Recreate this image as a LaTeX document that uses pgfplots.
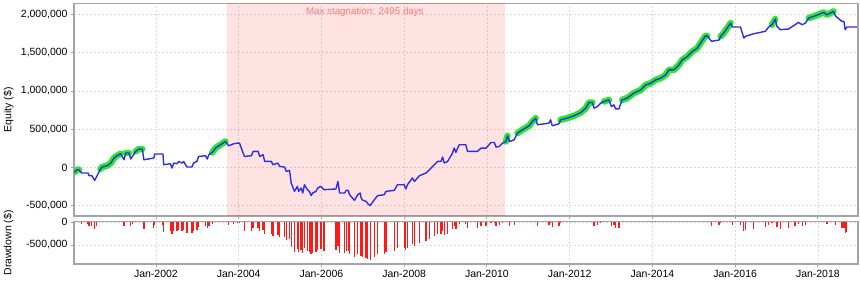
\documentclass[border=0pt]{standalone}
\usepackage{fontspec}
\setmainfont{Liberation Sans}
\usepackage{pgfplots}
\pgfplotsset{compat=1.18}
\definecolor{eqblue}{RGB}{45,45,235}
\definecolor{hiGreen}{RGB}{40,235,40}
\definecolor{stagtext}{RGB}{250,120,120}
\definecolor{axgray}{RGB}{165,165,165}
\definecolor{gridgray}{RGB}{218,218,218}
\definecolor{ddred}{RGB}{255,25,25}

\pgfplotsset{
  base/.style={
    scale only axis, width=784bp,
    xmin=2000.02, xmax=2018.97,
    xtick={2002,2004,2006,2008,2010,2012,2014,2016,2018},
    grid=major,
    major grid style={draw=gridgray, dash pattern=on 2bp off 2bp, line width=0.5bp},
    axis line style={draw=axgray, line width=1.2bp},
    tick style={draw=axgray, line width=0.8bp},
    tick align=outside, major tick length=3bp,
    xtick pos=bottom, ytick pos=left,
    ticklabel style={font=\fontsize{10.5}{12}\selectfont},
    label style={font=\fontsize{10.5}{12}\selectfont},
    scaled y ticks=false,
    /pgf/number format/assume math mode=true,
    /pgf/number format/fixed,
    /pgf/number format/precision=0,
    /pgf/number format/1000 sep={,},
    ylabel style={at={(axis description cs:-0.0833,0.5)}, anchor=center},
  },
  greenseg/.style={hiGreen, line width=6.5bp, line cap=round, line join=round, no markers},
}

\begin{document}
\begin{tikzpicture}
\useasboundingbox (0,0) rectangle (860bp,286bp);

\begin{axis}[base, at={(74bp,70bp)}, anchor=south west, height=212.7bp,
  ymin=-635000, ymax=2145000,
  ytick={-500000,0,500000,1000000,1500000,2000000},
  xticklabels={},
  ylabel={Equity (\$)}]
\fill[red, fill opacity=0.11] (axis cs:2003.72,-635000) rectangle (axis cs:2010.44,2145000);
\node[text=stagtext, font=\fontsize{9.8}{11}\selectfont] at (axis cs:2007.05,2030000) {Max stagnation: 2495 days};

\addplot[greenseg] coordinates {(2000.02,-65000)(2000.10,-30000)(2000.14,-30000)};
\addplot[greenseg] coordinates {(2000.66,-21000)(2000.70,5000)(2000.82,22000)(2000.91,57000)(2000.99,123000)(2001.06,153000)(2001.15,179000)};
\addplot[greenseg] coordinates {(2001.27,188000)(2001.35,188000)};
\addplot[greenseg] coordinates {(2001.51,209000)(2001.59,240000)(2001.67,240000)};
\addplot[greenseg] coordinates {(2003.36,196000)(2003.44,253000)(2003.56,296000)(2003.68,339000)};
\addplot[greenseg] coordinates {(2010.46,339000)(2010.50,413000)};
\addplot[greenseg] coordinates {(2010.74,449000)(2010.86,492000)(2011.02,544000)(2011.10,600000)(2011.18,644000)};
\addplot[greenseg] coordinates {(2011.78,622000)(2011.94,644000)(2012.10,674000)(2012.27,717000)(2012.39,775000)(2012.47,848000)(2012.55,848000)};
\addplot[greenseg] coordinates {(2012.83,861000)(2012.95,883000)};
\addplot[greenseg] coordinates {(2013.27,883000)(2013.39,905000)(2013.55,970000)(2013.72,1013000)(2013.84,1078000)(2013.96,1101000)(2014.08,1144000)(2014.20,1166000)(2014.32,1209000)(2014.40,1274000)(2014.52,1274000)(2014.64,1339000)(2014.72,1404000)(2014.84,1447000)(2014.96,1513000)(2015.08,1557000)(2015.16,1622000)(2015.28,1717000)(2015.32,1721000)};
\addplot[greenseg] coordinates {(2015.65,1713000)(2015.73,1760000)(2015.89,1887000)};
\addplot[greenseg] coordinates {(2016.89,1865000)(2016.97,1939000)};
\addplot[greenseg] coordinates {(2017.78,1952000)(2017.94,1982000)(2018.14,2026000)(2018.22,1995000)(2018.38,2039000)};

\addplot[eqblue, line width=1.4bp, no markers, line join=round] coordinates {
(2000.02,-65000)(2000.10,-30000)(2000.14,-30000)(2000.20,-73000)(2000.36,-73000)(2000.38,-108000)
(2000.45,-108000)(2000.52,-170000)(2000.57,-117000)(2000.66,-21000)(2000.70,5000)(2000.82,22000)
(2000.91,57000)(2000.99,123000)(2001.06,153000)(2001.15,179000)(2001.23,100000)(2001.27,188000)
(2001.35,188000)(2001.39,110000)(2001.43,143000)(2001.51,209000)(2001.59,240000)(2001.67,240000)
(2001.71,100000)(2001.95,123000)(2001.97,175000)(2002.17,175000)(2002.19,35000)(2002.35,48000)
(2002.39,-8000)(2002.43,57000)(2002.51,48000)(2002.55,78000)(2002.63,57000)(2002.67,78000)
(2002.75,5000)(2002.87,5000)(2002.91,57000)(2002.99,78000)(2003.03,143000)(2003.20,153000)
(2003.24,110000)(2003.28,166000)(2003.36,196000)(2003.44,253000)(2003.56,296000)(2003.68,339000)
(2003.76,283000)(2003.88,309000)(2003.98,318000)(2004.02,318000)(2004.14,143000)(2004.31,153000)
(2004.35,209000)(2004.47,209000)(2004.51,143000)(2004.59,166000)(2004.63,78000)(2004.79,78000)
(2004.83,35000)(2004.95,57000)(2004.99,13000)(2005.11,5000)(2005.15,-52000)(2005.23,-39000)
(2005.27,-204000)(2005.35,-313000)(2005.42,-248000)(2005.45,-313000)(2005.51,-269000)(2005.55,-334000)
(2005.59,-226000)(2005.66,-291000)(2005.71,-313000)(2005.75,-369000)(2005.79,-334000)(2005.87,-313000)
(2005.91,-269000)(2005.99,-248000)(2006.06,-291000)(2006.35,-282000)(2006.40,-183000)(2006.44,-334000)
(2006.56,-334000)(2006.60,-300000)(2006.65,-300000)(2006.68,-356000)(2006.80,-430000)(2006.88,-356000)
(2006.94,-334000)(2006.96,-399000)(2007.00,-430000)(2007.08,-443000)(2007.12,-473000)(2007.18,-499000)
(2007.28,-421000)(2007.36,-369000)(2007.52,-356000)(2007.56,-313000)(2007.76,-300000)(2007.84,-226000)
(2008.00,-226000)(2008.04,-282000)(2008.08,-226000)(2008.20,-138000)(2008.25,-183000)(2008.37,-108000)
(2008.53,-73000)(2008.61,-30000)(2008.73,35000)(2008.81,78000)(2008.89,78000)(2008.93,136000)
(2008.97,57000)(2009.05,78000)(2009.17,188000)(2009.21,253000)(2009.25,196000)(2009.33,296000)
(2009.49,296000)(2009.53,209000)(2009.77,209000)(2009.86,253000)(2009.98,253000)(2010.10,326000)
(2010.18,326000)(2010.22,266000)(2010.30,274000)(2010.38,318000)(2010.46,339000)(2010.50,413000)
(2010.55,339000)(2010.66,361000)(2010.74,449000)(2010.86,492000)(2011.02,544000)(2011.10,600000)
(2011.18,644000)(2011.22,557000)(2011.50,579000)(2011.54,622000)(2011.58,544000)(2011.74,570000)
(2011.78,622000)(2011.94,644000)(2012.10,674000)(2012.27,717000)(2012.39,775000)(2012.47,848000)
(2012.55,848000)(2012.59,775000)(2012.67,795000)(2012.75,840000)(2012.83,861000)(2012.95,883000)
(2013.01,795000)(2013.07,818000)(2013.11,765000)(2013.19,765000)(2013.27,883000)(2013.39,905000)
(2013.55,970000)(2013.72,1013000)(2013.84,1078000)(2013.96,1101000)(2014.08,1144000)(2014.20,1166000)
(2014.32,1209000)(2014.40,1274000)(2014.52,1274000)(2014.64,1339000)(2014.72,1404000)(2014.84,1447000)
(2014.96,1513000)(2015.08,1557000)(2015.16,1622000)(2015.28,1717000)(2015.32,1721000)(2015.43,1648000)
(2015.61,1665000)(2015.65,1713000)(2015.73,1760000)(2015.89,1887000)(2015.93,1835000)(2016.13,1835000)
(2016.21,1691000)(2016.25,1713000)(2016.45,1747000)(2016.73,1779000)(2016.81,1835000)(2016.89,1865000)
(2016.97,1939000)(2017.01,1844000)(2017.09,1800000)(2017.29,1809000)(2017.45,1865000)(2017.53,1896000)
(2017.62,1865000)(2017.70,1887000)(2017.78,1952000)(2017.94,1982000)(2018.14,2026000)(2018.22,1995000)
(2018.38,2039000)(2018.42,1982000)(2018.58,1909000)(2018.63,1909000)(2018.66,1800000)(2018.70,1835000)
(2018.94,1835000)};
\end{axis}

\begin{axis}[base, at={(74bp,22bp)}, anchor=south west, height=42.3bp,
  ymin=-920000, ymax=13000,
  ytick={-500000,0},
  xticklabels={Jan-2002,Jan-2004,Jan-2006,Jan-2008,Jan-2010,Jan-2012,Jan-2014,Jan-2016,Jan-2018},
  ylabel={Drawdown (\$)}]
\addplot[ycomb, draw=ddred, line width=1.3bp, no markers] coordinates {
(2000.20,-43000)(2000.36,-43000)(2000.38,-78000)(2000.45,-78000)(2000.52,-140000)(2000.57,-87000)
(2001.23,-79000)(2001.39,-78000)(2001.43,-45000)(2001.71,-140000)(2001.95,-117000)(2001.97,-65000)
(2002.17,-65000)(2002.19,-205000)(2002.35,-192000)(2002.39,-248000)(2002.43,-183000)(2002.51,-192000)
(2002.55,-162000)(2002.63,-183000)(2002.67,-162000)(2002.75,-235000)(2002.87,-235000)(2002.91,-183000)
(2002.99,-162000)(2003.03,-97000)(2003.20,-87000)(2003.24,-130000)(2003.28,-74000)(2003.36,-44000)
(2003.76,-56000)(2003.88,-30000)(2003.98,-21000)(2004.02,-21000)(2004.14,-196000)(2004.31,-186000)
(2004.35,-130000)(2004.47,-130000)(2004.51,-196000)(2004.59,-173000)(2004.63,-261000)(2004.79,-261000)
(2004.83,-304000)(2004.95,-282000)(2004.99,-326000)(2005.11,-334000)(2005.15,-391000)(2005.23,-378000)
(2005.27,-543000)(2005.35,-652000)(2005.42,-587000)(2005.45,-652000)(2005.51,-608000)(2005.55,-673000)
(2005.59,-565000)(2005.66,-630000)(2005.71,-652000)(2005.75,-708000)(2005.79,-673000)(2005.87,-652000)
(2005.91,-608000)(2005.99,-587000)(2006.06,-630000)(2006.35,-621000)(2006.40,-522000)(2006.44,-673000)
(2006.56,-673000)(2006.60,-639000)(2006.65,-639000)(2006.68,-695000)(2006.80,-769000)(2006.88,-695000)
(2006.94,-673000)(2006.96,-738000)(2007.00,-769000)(2007.08,-782000)(2007.12,-812000)(2007.18,-838000)
(2007.28,-760000)(2007.36,-708000)(2007.52,-695000)(2007.56,-652000)(2007.76,-639000)(2007.84,-565000)
(2008.00,-565000)(2008.04,-621000)(2008.08,-565000)(2008.20,-477000)(2008.25,-522000)(2008.37,-447000)
(2008.53,-412000)(2008.61,-369000)(2008.73,-304000)(2008.81,-261000)(2008.89,-261000)(2008.93,-203000)
(2008.97,-282000)(2009.05,-261000)(2009.17,-151000)(2009.21,-86000)(2009.25,-143000)(2009.33,-43000)
(2009.49,-43000)(2009.53,-130000)(2009.77,-130000)(2009.86,-86000)(2009.98,-86000)(2010.10,-13000)
(2010.18,-13000)(2010.22,-73000)(2010.30,-65000)(2010.38,-21000)(2010.55,-74000)(2010.66,-52000)
(2011.22,-87000)(2011.50,-65000)(2011.54,-22000)(2011.58,-100000)(2011.74,-74000)(2011.78,-22000)
(2012.59,-73000)(2012.67,-53000)(2012.75,-8000)(2013.01,-88000)(2013.07,-65000)(2013.11,-118000)
(2013.19,-118000)(2015.43,-73000)(2015.61,-56000)(2015.65,-8000)(2015.93,-52000)(2016.13,-52000)
(2016.21,-196000)(2016.25,-174000)(2016.45,-140000)(2016.73,-108000)(2016.81,-52000)(2016.89,-22000)
(2017.01,-95000)(2017.09,-139000)(2017.29,-130000)(2017.45,-74000)(2017.53,-43000)(2017.62,-74000)
(2017.70,-52000)(2018.22,-31000)(2018.42,-57000)(2018.58,-130000)(2018.63,-130000)(2018.66,-239000)
(2018.70,-204000)};
\end{axis}
\end{tikzpicture}
\end{document}
